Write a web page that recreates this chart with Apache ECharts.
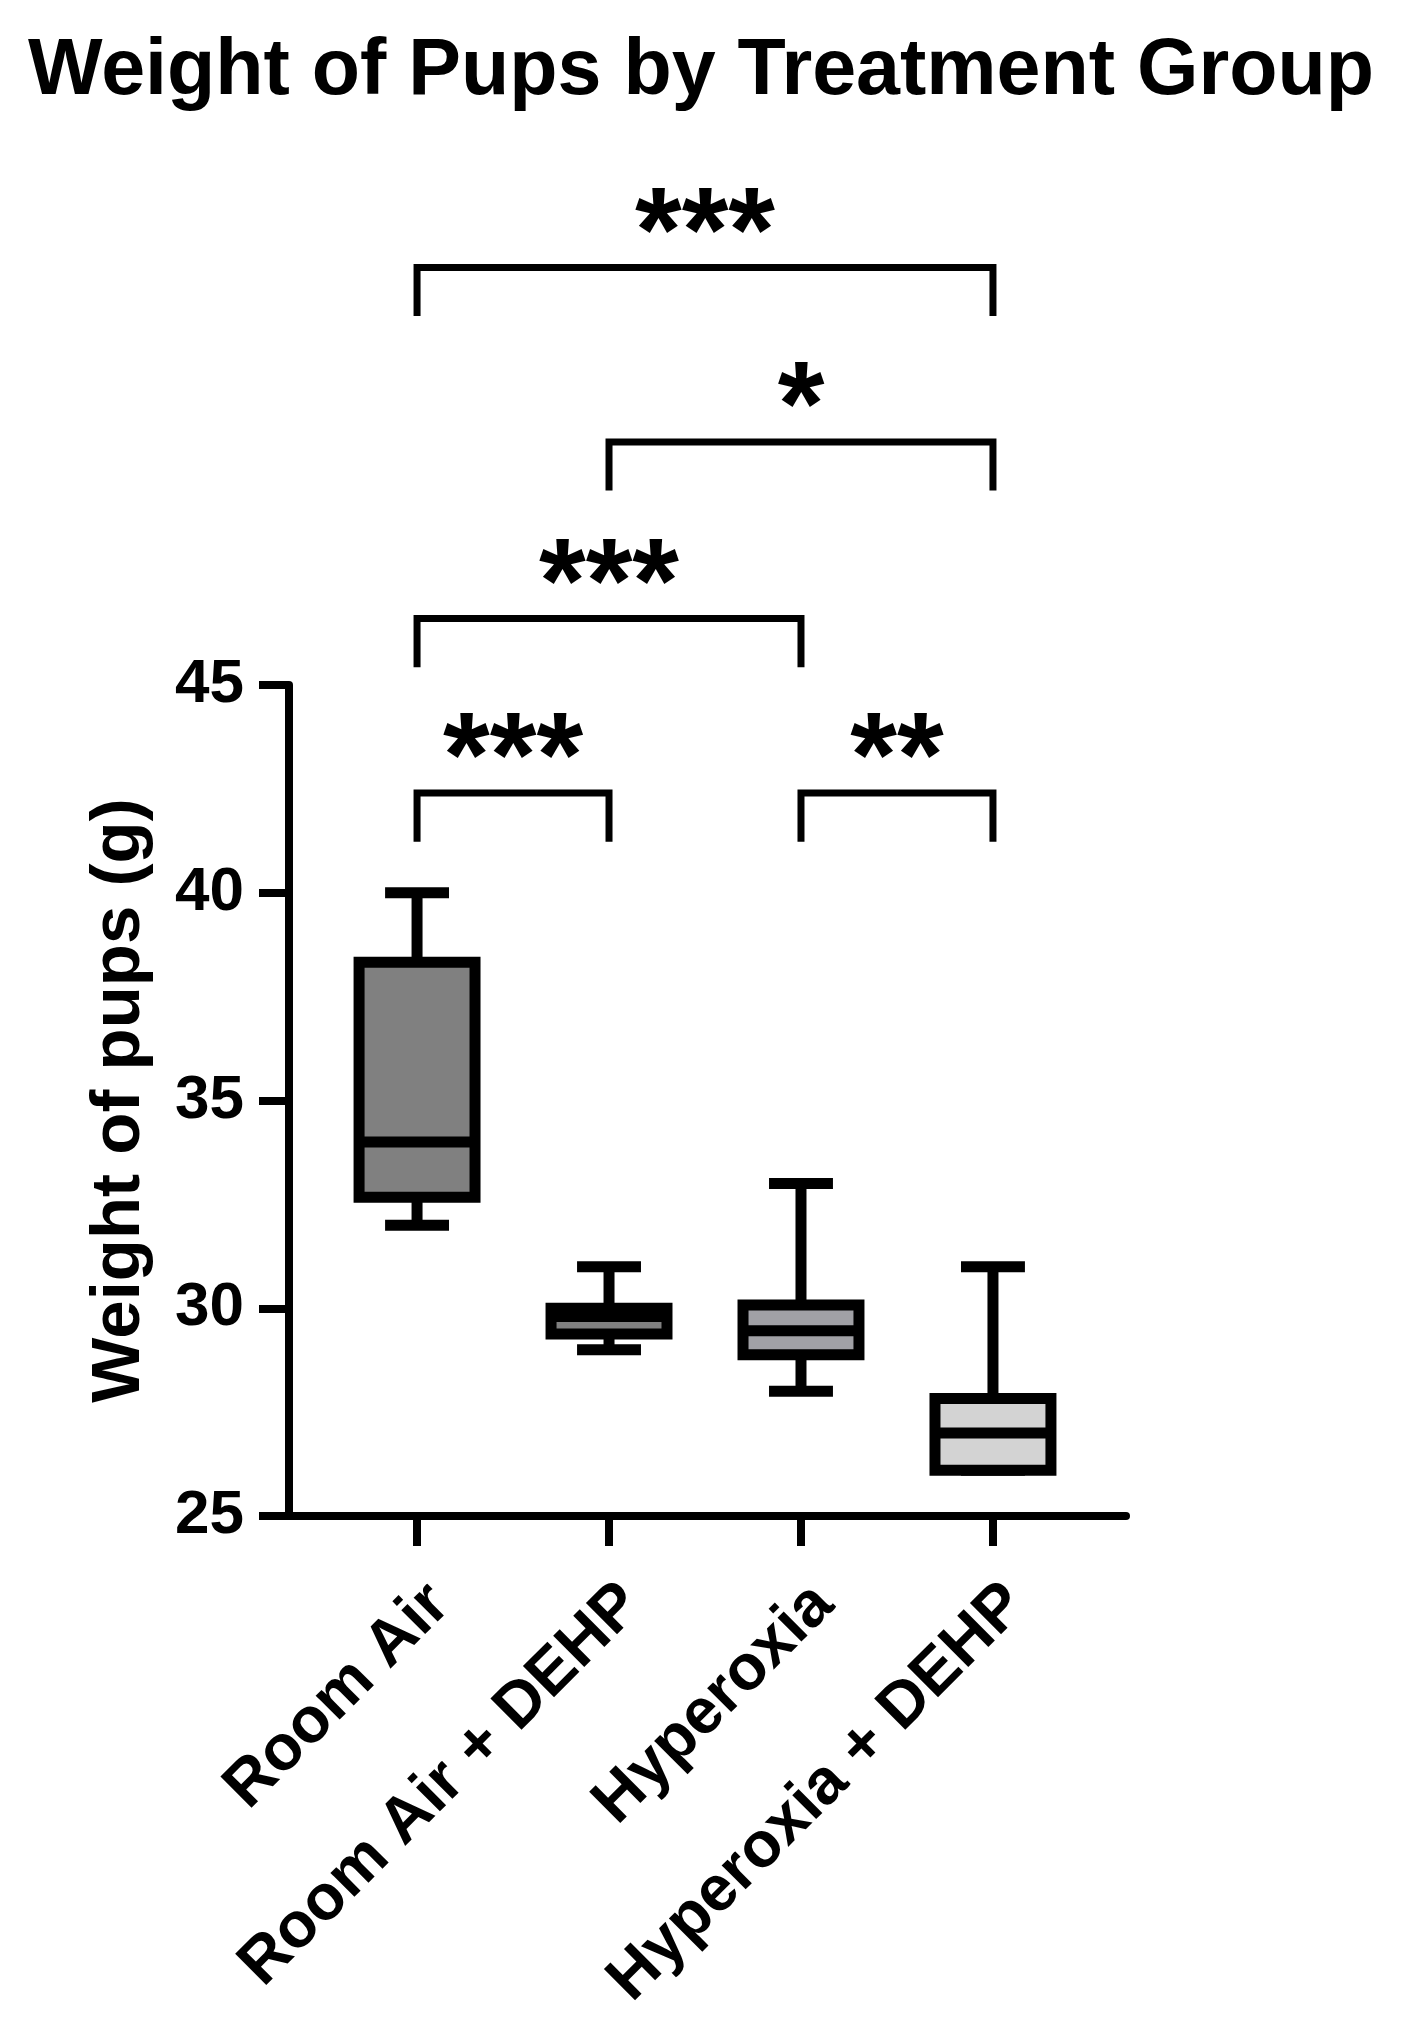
<!DOCTYPE html>
<html>
<head>
<meta charset="utf-8">
<script src="https://cdn.jsdelivr.net/npm/echarts@6/dist/echarts.min.js"></script>
<style>
  html, body { margin: 0; padding: 0; background: #fff; }
  #chart { width: 1402px; height: 2023px; }
</style>
</head>
<body>
<div id="chart"></div>
<script>
// groups along the x axis
const categories = ['Room Air', 'Room Air + DEHP', 'Hyperoxia', 'Hyperoxia + DEHP'];

// box-and-whisker values (g)
const whiskerMin = [32, 29, 28, 26.1];
const q1 = [32.67, 29.38, 28.88, 26.1];
const median = [34, 29.8, 29.46, 27];
const q3 = [38.33, 30.0, 30.08, 27.83];
const whiskerMax = [40, 31, 33, 31];
const boxColors = ['#808080', '#808080', '#a1a1a6', '#d3d3d3'];

// y ticks
const yTicks = [25, 30, 35, 40, 45];

// significance brackets
const bracketFrom = [0, 1, 0, 0, 2];
const bracketTo = [3, 3, 2, 1, 3];
const bracketLevel = [55.05, 50.85, 46.6, 42.4, 42.4];
const bracketStars = ['***', '*', '***', '***', '**'];

const FONT = '"Liberation Sans", Arial, Helvetica, sans-serif';
const LEG_DROP = 1.17;   // bracket leg length, in g
const STAR_LIFT = 0.72;  // star text anchor above bracket, in g

const chart = echarts.init(document.getElementById('chart'));

function renderBox(params, api) {
    const i = params.dataIndex;
    const x = api.value(0);
    const band = api.size([1, 0])[0];
    const boxW = band * 0.604;
    const capW = band * 0.333;
    const pMin = api.coord([x, api.value(1)]);
    const pQ1 = api.coord([x, api.value(2)]);
    const pMed = api.coord([x, api.value(3)]);
    const pQ3 = api.coord([x, api.value(4)]);
    const pMax = api.coord([x, api.value(5)]);
    const line = {stroke: '#000', lineWidth: 11, lineCap: 'butt'};
    return {
        type: 'group',
        children: [
            {type: 'line', shape: {x1: pQ3[0], y1: pQ3[1], x2: pMax[0], y2: pMax[1]}, style: line},
            {type: 'line', shape: {x1: pMin[0], y1: pMin[1], x2: pQ1[0], y2: pQ1[1]}, style: line},
            {type: 'line', shape: {x1: pMax[0] - capW / 2, y1: pMax[1], x2: pMax[0] + capW / 2, y2: pMax[1]}, style: line},
            {type: 'line', shape: {x1: pMin[0] - capW / 2, y1: pMin[1], x2: pMin[0] + capW / 2, y2: pMin[1]}, style: line},
            {
                type: 'rect',
                shape: {x: pQ3[0] - boxW / 2, y: pQ3[1], width: boxW, height: pQ1[1] - pQ3[1]},
                style: {fill: boxColors[i], stroke: '#000', lineWidth: 11}
            },
            {type: 'line', shape: {x1: pMed[0] - boxW / 2, y1: pMed[1], x2: pMed[0] + boxW / 2, y2: pMed[1]}, style: line}
        ]
    };
}

function renderBracket(params, api) {
    const i = params.dataIndex;
    const from = api.value(0);
    const to = api.value(1);
    const level = api.value(2);
    const a = api.coord([from, level]);
    const b = api.coord([to, level]);
    const aLow = api.coord([from, level - LEG_DROP]);
    const bLow = api.coord([to, level - LEG_DROP]);
    const s = api.coord([(from + to) / 2, level + STAR_LIFT]);
    return {
        type: 'group',
        children: [
            {
                type: 'polyline',
                shape: {points: [aLow, a, b, bLow]},
                style: {stroke: '#000', lineWidth: 7, fill: null, lineJoin: 'miter', lineCap: 'butt'}
            },
            {
                type: 'text',
                x: s[0],
                y: s[1],
                style: {
                    text: bracketStars[i],
                    fontSize: 120,
                    fontWeight: 'bold',
                    fontFamily: FONT,
                    fill: '#000',
                    align: 'center',
                    verticalAlign: 'middle'
                }
            }
        ]
    };
}

const option = {
    backgroundColor: '#fff',
    animation: false,
    title: {
        text: 'Weight of Pups by Treatment Group',
        left: 'center',
        top: 28,
        textStyle: {fontFamily: FONT, fontWeight: 'bold', fontSize: 79, color: '#000'}
    },
    grid: {left: 289, right: 276, top: 685, bottom: 507},
    xAxis: {
        type: 'value',
        min: -0.667,
        max: 3.693,
        splitLine: {show: false},
        axisLine: {onZero: false, lineStyle: {color: '#000', width: 8}},
        axisTick: {customValues: [0, 1, 2, 3], length: 30, lineStyle: {color: '#000', width: 8}},
        axisLabel: {
            customValues: [0, 1, 2, 3],
            formatter: function (v) { return categories[Math.round(v)]; },
            rotate: 45,
            align: 'right',
            verticalAlign: 'top',
            margin: 56,
            fontFamily: FONT,
            fontWeight: 'bold',
            fontSize: 64,
            color: '#000'
        }
    },
    yAxis: {
        type: 'value',
        min: yTicks[0],
        max: yTicks[yTicks.length - 1],
        interval: 5,
        name: 'Weight of pups (g)',
        nameLocation: 'middle',
        nameGap: 135,
        nameTextStyle: {fontFamily: FONT, fontWeight: 'bold', fontSize: 69, color: '#000'},
        splitLine: {show: false},
        axisLine: {show: true, onZero: false, lineStyle: {color: '#000', width: 8}},
        axisTick: {show: true, length: 30, lineStyle: {color: '#000', width: 8}},
        axisLabel: {margin: 45, fontFamily: FONT, fontWeight: 'bold', fontSize: 62, color: '#000'}
    },
    series: [
        {
            type: 'custom',
            name: 'boxes',
            renderItem: renderBox,
            encode: {x: 0, y: [1, 2, 3, 4, 5]},
            data: categories.map(function (c, i) {
                return [i, whiskerMin[i], q1[i], median[i], q3[i], whiskerMax[i]];
            }),
            z: 3
        },
        {
            type: 'custom',
            name: 'brackets',
            renderItem: renderBracket,
            encode: {x: [0, 1], y: 2},
            clip: false,
            data: bracketFrom.map(function (f, i) {
                return [f, bracketTo[i], bracketLevel[i]];
            }),
            z: 3
        }
    ]
};

chart.setOption(option);
</script>
</body>
</html>
